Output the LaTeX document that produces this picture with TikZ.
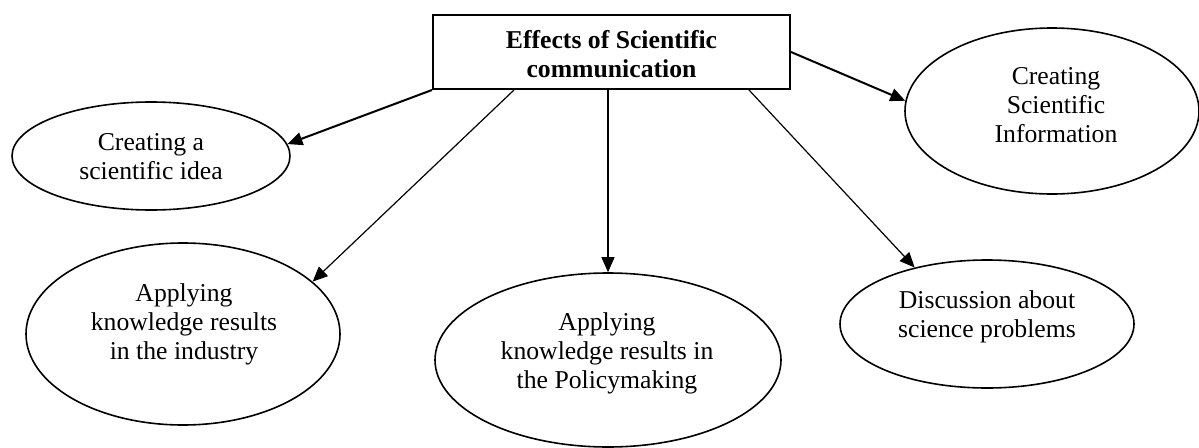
\documentclass[tikz,border=0pt]{standalone}
\usepackage{fontspec}
\setmainfont{Liberation Serif}
\usetikzlibrary{arrows.meta,shapes.geometric}

\tikzset{
  bubble/.style={ellipse, draw, line width=1.6pt, inner sep=0pt},
  caption/.style={align=center, inner sep=0pt, font=\fontsize{25.7}{29}\selectfont},
  titlebox/.style={rectangle, draw, line width=2pt, inner sep=0pt},
  tip/.style={-{Triangle[length=15pt,width=13pt]}},
  thinlink/.style={tip, line width=1.2pt},
  thicklink/.style={tip, line width=2pt},
}

\begin{document}
\begin{tikzpicture}[x=1pt, y=-1pt]
  \useasboundingbox (0,0) rectangle (1199,447);

  % central box
  \node[titlebox, minimum width=357pt, minimum height=74pt] (box) at (611.5,52) {};
  \node[caption, font=\fontsize{25.7}{29}\selectfont\bfseries] (boxtext) at (611.5,54)
    {Effects of Scientific\\communication};

  % outcome ellipses
  \node[bubble, minimum width=278pt, minimum height=108pt] (idea) at (151,156) {};
  \node[caption] (ideatext) at (151,157) {Creating a\\scientific idea};

  \node[bubble, minimum width=294pt, minimum height=166pt] (info) at (1052,111) {};
  \node[caption] (infotext) at (1056,105) {Creating\\Scientific\\Information};

  \node[bubble, minimum width=314pt, minimum height=182pt] (industry) at (183,334) {};
  \node[caption] (industrytext) at (184,324) {Applying\\knowledge results\\in the industry};

  \node[bubble, minimum width=346pt, minimum height=174pt] (policy) at (608,360) {};
  \node[caption] (policytext) at (607,353) {Applying\\knowledge results in\\the Policymaking};

  \node[bubble, minimum width=294pt, minimum height=128pt] (discuss) at (987,324) {};
  \node[caption] (discusstext) at (987,317) {Discussion about\\science problems};

  % connectors
  \draw[thicklink] (box.south west) -- (idea.5);
  \draw[thinlink] ([xshift=82pt]box.south west) -- (industry.22);
  \draw[thinlink] (box.south -| policy.north) -- (policy.north);
  \draw[thinlink] ([xshift=317pt]box.south west) -- (discuss.142);
  \draw[thicklink] (box.east) -- (info.176);
\end{tikzpicture}
\end{document}
